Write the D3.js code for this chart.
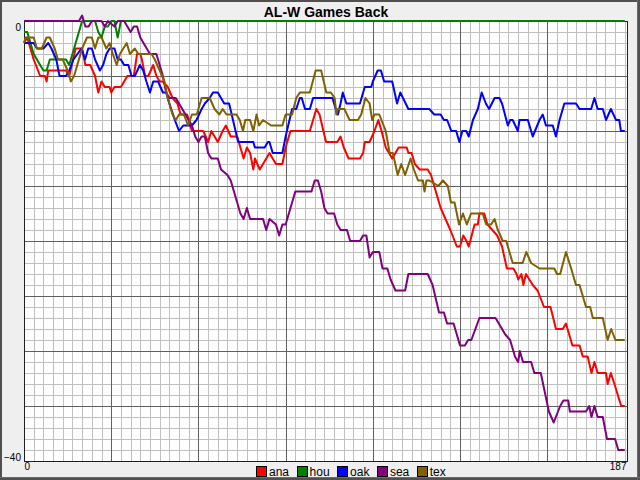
<!DOCTYPE html>
<html><head><meta charset="utf-8">
<script src="https://cdn.jsdelivr.net/npm/d3@7/dist/d3.min.js"></script>
<style>body{margin:0;background:#fff}svg{display:block}</style>
</head><body>
<svg id="chart" width="640" height="480"></svg>
<script>
const chartTitle = "AL-W Games Back";
const teams = ["ana", "hou", "oak", "sea", "tex"];
const teamColors = ["#ff0000", "#008000", "#0000ff", "#800080", "#806000"];
const yTickValues = [0, -40];
const xTickValues = [0, 187];

// [day, games back]
const ana = [[0,-2],[1,-1.5],[3,-3.5],[5,-5],[6.5,-5],[7,-5.5],[7.5,-4.5],[13,-4.5],[14,-5],[16,-2.5],[18,-2.5],[19,-4],[20.5,-4],[22,-5],[23,-6.5],[24,-5.5],[25,-6],[26.5,-6],[27,-6.5],[28,-6],[30,-6],[32,-5],[34,-5],[35,-3],[36,-3],[36.5,-3.5],[37.5,-5],[38.5,-5],[40,-4],[41,-5],[42,-5.5],[43,-5.5],[44.5,-6],[46,-7],[47.5,-7.5],[48.5,-8.5],[50.5,-8.5],[52,-10],[55.5,-10],[57,-11],[58,-10],[60,-11],[61.5,-10],[62.5,-9.5],[64,-10.5],[66,-10.5],[68,-12.5],[69,-11.5],[70,-12],[71,-13.5],[71.5,-12.5],[73,-13.5],[75,-12.5],[76,-12],[77,-12.5],[78,-13],[80,-13],[81,-11.5],[82.5,-10],[88.5,-10],[90.5,-8],[91.5,-8.5],[93.5,-11],[97,-11],[98,-10.5],[99,-11.5],[100.5,-12.5],[104,-12.5],[105,-12],[105.5,-11],[107,-11],[108.5,-10],[109.7,-9],[110.7,-10],[112,-11.5],[113,-12],[114,-12.5],[115,-12],[116,-11.5],[118.5,-11.5],[119,-12],[120,-12],[121,-13],[122.5,-13.5],[125,-13.5],[126,-14],[127,-15],[128,-16],[129,-17],[130.5,-18],[132,-19],[134,-20.5],[135,-20.5],[136,-19.5],[137,-20],[137.7,-20.5],[139.5,-18.5],[140.5,-18.5],[141,-17.5],[142.5,-17.5],[143.5,-18.5],[146.5,-19.5],[148,-20.5],[149.5,-22.5],[151.5,-22.5],[152.5,-23],[153,-23.5],[154,-23],[154.6,-24],[155.4,-23],[157.5,-24],[159,-24.5],[161,-26],[163,-26],[164.7,-28],[166.8,-28],[167.8,-27.5],[168.8,-28.5],[169.8,-29.5],[172,-29.5],[173,-30.5],[174.5,-30.5],[175.7,-32],[176.6,-31],[177.6,-32],[180.2,-32],[180.7,-33],[181.7,-32],[182.8,-33],[184.9,-35],[186,-35]];
const hou = [[0,-1],[1,-1],[3,-3],[6,-4.5],[7,-4.5],[8,-3.5],[13,-3.5],[14,-4],[17,-1],[18,0],[22,0],[23,-1],[24,-1.5],[25,-0.5],[26,-0.5],[27,0],[28,0],[29,-1.5],[30,0],[186,0]];
const oak = [[0,-2],[3,-2],[4,-2.5],[6,-2.5],[7.5,-2],[8.5,-2.5],[10,-3.5],[11,-5],[13,-5],[14,-4.5],[15.3,-3.5],[17.8,-2.5],[18.9,-3.5],[19.9,-2.5],[21,-2.5],[22,-3.5],[23.5,-4.5],[24.5,-4],[25.5,-3],[26.5,-2.5],[28,-2.5],[29,-3.5],[30,-3.5],[31,-4],[32.3,-4],[33.3,-5],[34.3,-5],[35.9,-4],[36.9,-4.5],[37.9,-5.5],[39,-6.5],[40,-5.5],[41.5,-5.5],[43,-6.5],[44,-6.5],[45,-7.5],[46.7,-9],[48,-10],[49.3,-9.5],[52,-9.5],[53.4,-9],[55,-8],[56,-7.5],[57.5,-7],[58.5,-6.5],[60,-6.5],[61,-7],[62,-7.5],[63.5,-7.5],[64.7,-9],[66.3,-11],[71,-11],[71.5,-11.5],[74.5,-11.5],[75.5,-11],[76,-11],[77,-12],[80,-12],[81,-10.5],[83,-8],[84.3,-8],[85.4,-7],[86,-7],[87,-8],[88.5,-8],[89.5,-7],[95.5,-7],[96.5,-8],[97.2,-8.5],[98,-7.5],[98.7,-6.5],[99.8,-7.5],[104,-7.5],[105.5,-6],[107.5,-6],[108,-5.5],[109.5,-4.5],[110.5,-4.5],[111.5,-5.5],[114,-5.5],[115.5,-7.5],[116.5,-6.5],[119,-8],[125.5,-8],[127,-8.5],[129,-8.5],[130,-9],[131,-9],[132.3,-10],[133.8,-10],[134.8,-11],[135.7,-10],[136.9,-10],[137.7,-10.5],[139,-9],[140.5,-8],[141.7,-6.5],[143,-7.5],[144,-8],[145.7,-7],[147.2,-7],[148,-7.5],[149.8,-9.5],[150.5,-9],[151.3,-9],[152.9,-10],[153.4,-9],[156,-9],[157.5,-10.5],[159.6,-9],[160.6,-8.5],[161.6,-9.5],[163.7,-9.5],[164.7,-10.5],[165.8,-9],[167.3,-7.5],[170.9,-7.5],[172,-8],[175.6,-8],[176.6,-7],[177.6,-8],[179.2,-8],[180.2,-9],[181.7,-8],[183.3,-9],[184.3,-9],[184.8,-10],[186,-10]];
const sea = [[0,0],[17,0],[18,0.5],[19,-0.5],[20,-0.5],[21,0],[24,0],[25,-0.5],[26,0],[28,-0.5],[29,0],[31,0],[32,-0.5],[33,-1],[34,-0.5],[35,-0.5],[36,-1.5],[37,-2],[38,-2.5],[39,-3],[41,-3],[42,-4],[43,-5],[44,-6.5],[45,-7],[47,-7],[48,-7.5],[49,-8],[50,-8.5],[51,-9],[52,-9.5],[53,-10.5],[54,-11],[55,-10.5],[56,-10.5],[57,-12],[58,-12.5],[60,-12.5],[61,-13.5],[63,-14],[64,-14.5],[65,-15.5],[66,-16.5],[67,-17.5],[68,-18],[69,-17],[70,-18],[74,-18],[75,-19],[76,-18],[78,-18.5],[79,-19.5],[80,-18.5],[81,-18.5],[82,-17.5],[83,-16.5],[84,-15.5],[89,-15.5],[90,-14.5],[91,-14.5],[92,-15.5],[93,-17],[94,-17.5],[96,-17.5],[97,-18.5],[98,-19],[100,-19],[101,-20],[104,-20],[105,-19.5],[106,-19.5],[107,-21.5],[108,-21],[110,-21],[111,-22.5],[112.5,-22.5],[113.5,-23.5],[115,-24.5],[118,-24.5],[119,-23],[125,-23],[126.5,-24],[128.5,-26.5],[130,-26.5],[131,-27.5],[133,-27.5],[135,-29.5],[136.5,-29.5],[137.5,-29],[138.5,-29],[141,-27],[146,-27],[147,-27.5],[149,-28.5],[150.5,-29],[152,-30.5],[153,-31],[153.5,-30],[154.5,-31],[157,-31],[158,-32],[160,-32],[162.5,-35.5],[164,-36.5],[166,-35],[167,-34.5],[168.5,-34.5],[169,-35.5],[174,-35.5],[175,-35],[175.7,-36],[176.6,-35],[177.6,-36],[179.2,-36],[180.5,-38],[183,-38],[184,-39],[186,-39]];
const tex = [[0,-2],[0.5,-1.5],[3,-1.5],[4,-2.5],[5.5,-2.5],[7,-1.5],[8,-1.5],[9.5,-2.5],[10.5,-3.5],[12,-3.5],[13.5,-4.5],[14.5,-5.5],[15.5,-5],[18,-2.5],[19.5,-1.5],[21,-1.5],[22,-2.5],[23,-1.5],[24,-1.5],[25.5,-2.5],[26.5,-2],[27.5,-3],[28.7,-4],[29.7,-3],[31.8,-2],[32.8,-3],[34.3,-2.5],[35.4,-3],[39.5,-3],[40.5,-3.5],[42,-4.5],[43.5,-5.5],[44.5,-7],[46,-8.5],[47,-9],[48,-8.5],[49.5,-8.5],[50.8,-9.5],[52,-8.5],[53.5,-8.5],[55,-7],[57.5,-7],[59,-8],[60.5,-8.5],[61.5,-8],[62.7,-8.5],[65.8,-8.5],[66.8,-9],[67.8,-10],[68.5,-9],[70,-9],[71,-10],[72,-8.5],[72.8,-9.5],[74,-9],[76.5,-9.5],[80,-9.5],[81,-8.5],[83,-8.5],[84.3,-7],[85.4,-6.5],[88.5,-6.5],[90.3,-4.5],[92,-4.5],[93.6,-6.5],[95,-6.5],[96.2,-7],[96.7,-8.5],[97.2,-8],[99.2,-8],[100.8,-9],[103.4,-9],[104.4,-8.5],[105.7,-7],[107,-7.5],[107.8,-9],[108.5,-8.5],[110,-8.5],[112,-10],[113.2,-12],[114.2,-12],[115.7,-14],[116.8,-13],[118,-14],[119.7,-12.5],[120.7,-13.5],[122,-14.5],[123.5,-14.5],[124,-15.5],[124.6,-14.5],[125.5,-14.5],[128.3,-15],[129.7,-14.5],[131.2,-15],[132.2,-16.5],[133.3,-16.5],[134.7,-18.5],[135.9,-17.5],[137.1,-18.5],[138.4,-17.5],[142,-17.5],[143.1,-18.5],[144.6,-18.5],[145.7,-18],[146.7,-19],[147.5,-19.5],[148.2,-20],[149.3,-20],[151.3,-22],[154.4,-22],[155.5,-21],[157,-22],[159.6,-22.5],[164.2,-22.5],[165,-23],[166,-23],[167.8,-21],[169.4,-22.5],[170.9,-24],[172,-24],[174,-26],[175.3,-26],[176.1,-27],[179.2,-27],[180.7,-29],[181.8,-28],[183.1,-29],[186,-29]];

const seriesData = [ana, hou, oak, sea, tex];

const W = 640, H = 480;
const plot = {left: 24, right: 628, top: 21, bottom: 461};
const svg = d3.select("#chart");

// background + frame
svg.append("rect").attr("x",0).attr("y",0).attr("width",W).attr("height",H).attr("fill","#efefef");
svg.append("rect").attr("x",1).attr("y",1).attr("width",W-2).attr("height",H-2)
  .attr("fill","none").attr("stroke","#505050").attr("stroke-width",2);
svg.append("line").attr("x1",W-2.5).attr("x2",W-2.5).attr("y1",0).attr("y2",H).attr("stroke","#6a6a6a").attr("stroke-width",1);
svg.append("line").attr("x1",0).attr("x2",W).attr("y1",H-2.5).attr("y2",H-2.5).attr("stroke","#6a6a6a").attr("stroke-width",1);

const x = d3.scaleLinear().domain([0, 187]).range([plot.left, plot.right]);
const y = d3.scaleLinear().domain([0, -40]).range([plot.top, plot.bottom]);

svg.append("rect").attr("x",plot.left).attr("y",plot.top)
  .attr("width",plot.right-plot.left).attr("height",plot.bottom-plot.top).attr("fill","#ffffff");

const grid = svg.append("g").attr("shape-rendering","crispEdges");
const minorX = d3.range(3, 187, 3).filter(d => d % 27 !== 0);
const majorX = d3.range(27, 187, 27);
const minorY = d3.range(-1, -40, -1).filter(d => d % 5 !== 0);
const majorY = d3.range(-5, -40, -5);
grid.selectAll(".mx").data(minorX).join("line")
  .attr("x1",d=>Math.round(x(d))+0.5).attr("x2",d=>Math.round(x(d))+0.5)
  .attr("y1",plot.top).attr("y2",plot.bottom).attr("stroke","#c0c0c0");
grid.selectAll(".my").data(minorY).join("line")
  .attr("y1",d=>Math.round(y(d))+0.5).attr("y2",d=>Math.round(y(d))+0.5)
  .attr("x1",plot.left).attr("x2",plot.right).attr("stroke","#c0c0c0");
grid.selectAll(".Mx").data(majorX).join("line")
  .attr("x1",d=>Math.round(x(d))+0.5).attr("x2",d=>Math.round(x(d))+0.5)
  .attr("y1",plot.top).attr("y2",plot.bottom).attr("stroke","#606060");
grid.selectAll(".My").data(majorY).join("line")
  .attr("y1",d=>Math.round(y(d))+0.5).attr("y2",d=>Math.round(y(d))+0.5)
  .attr("x1",plot.left).attr("x2",plot.right).attr("stroke","#606060");

svg.append("rect").attr("x",plot.left+0.5).attr("y",plot.top+0.5)
  .attr("width",plot.right-plot.left-1).attr("height",plot.bottom-plot.top)
  .attr("fill","none").attr("stroke","#202020").attr("shape-rendering","crispEdges");

// axes
const yAxis = svg.append("g").attr("transform",`translate(${plot.left-1},0)`)
  .call(d3.axisLeft(y).tickValues(yTickValues).tickSize(0).tickPadding(2).tickFormat(d3.format("d")));
yAxis.select(".domain").remove();
yAxis.selectAll("text").attr("font-family","Liberation Sans, Arial, sans-serif").attr("font-size",10).attr("fill","#000")
  .attr("dy", d => d === 0 ? "0.95em" : "-0.05em");

const xAxis = svg.append("g").attr("transform",`translate(0,${plot.bottom})`)
  .call(d3.axisBottom(x).tickValues(xTickValues).tickSize(0).tickPadding(2).tickFormat(d3.format("d")));
xAxis.select(".domain").remove();
xAxis.selectAll("text").attr("font-family","Liberation Sans, Arial, sans-serif").attr("font-size",10).attr("fill","#000")
  .attr("text-anchor", d => d === 0 ? "start" : "end")
  .attr("dx", d => d === 0 ? "0" : "-2");

// series
const line = d3.line().x(d => x(d[0])).y(d => y(d[1]));
svg.append("g").selectAll("path").data(seriesData).join("path")
  .attr("d", line).attr("fill","none")
  .attr("stroke",(d,i)=>teamColors[i]).attr("stroke-width",2)
  .attr("stroke-linejoin","round");

// title
svg.append("text").attr("x",(plot.left+plot.right)/2).attr("y",17)
  .attr("text-anchor","middle").attr("font-family","Liberation Sans, Arial, sans-serif")
  .attr("font-weight","bold").attr("font-size",14).text(chartTitle);

// legend
const legend = svg.append("g");
let lx = 256;
teams.forEach((t, i) => {
  legend.append("rect").attr("x",lx+0.5).attr("y",466.5).attr("width",10).attr("height",10)
    .attr("fill",teamColors[i]).attr("stroke","#000").attr("shape-rendering","crispEdges");
  const tx = legend.append("text").attr("x",lx+13).attr("y",476)
    .attr("font-family","Liberation Sans, Arial, sans-serif").attr("font-size",12).text(t);
  lx += 13 + tx.node().getComputedTextLength() + 7.5;
});
</script>
</body></html>
